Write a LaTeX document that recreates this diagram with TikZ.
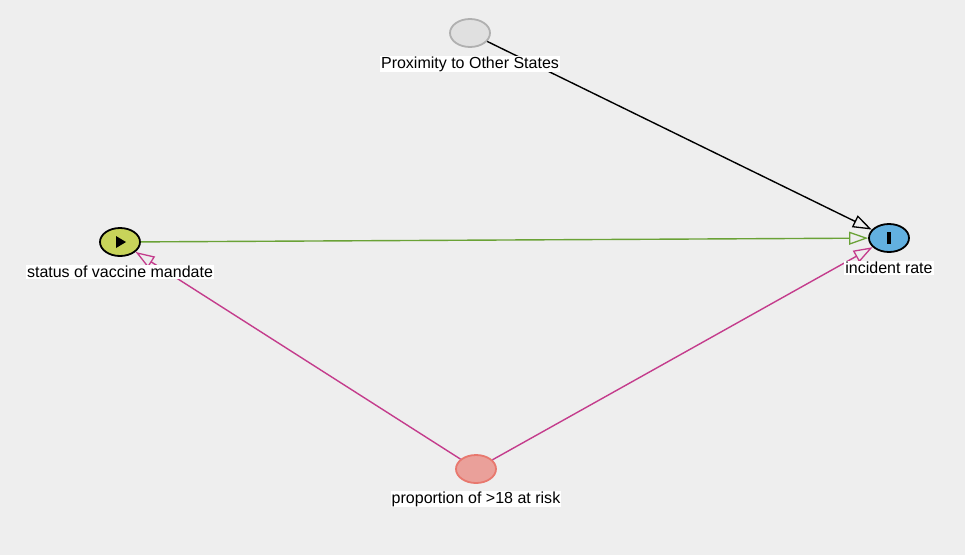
\documentclass[tikz,border=0pt]{standalone}
\usepackage{fontspec}
\setmainfont{Liberation Sans}
\usetikzlibrary{shapes.geometric,arrows.meta}
\definecolor{bg}{HTML}{EEEEEE}
\definecolor{exofill}{HTML}{C8D45A}
\definecolor{outfill}{HTML}{62B0E0}
\definecolor{othfill}{HTML}{E0E0E0}
\definecolor{othline}{HTML}{B0B0B0}
\definecolor{conffill}{HTML}{EAA09A}
\definecolor{confline}{HTML}{E8786E}
\definecolor{causal}{HTML}{6AA236}
\definecolor{biasing}{HTML}{C43C8C}
\tikzset{
  var/.style={ellipse, minimum width=40pt, minimum height=28pt, inner sep=0pt, line width=1.8pt},
  lbl/.style={fill=white, inner sep=1pt, font=\fontsize{16}{18}\selectfont, text=black},
  edge/.style={line width=1.4pt, -{Triangle[open, length=19pt, width=13pt, line width=1.3pt]}},
}
\begin{document}
\begin{tikzpicture}[x=1pt,y=-1pt]
\fill[bg] (0,0) rectangle (965,555);
\useasboundingbox (0,0) rectangle (965,555);

\node[var, fill=othfill, draw=othline] (prox) at (470,33) {};
\node[var, fill=exofill, draw=black] (stat) at (120,242) {};
\node[var, fill=outfill, draw=black] (inc) at (889,238) {};
\node[var, fill=conffill, draw=confline] (prop) at (476,469) {};

\fill[black] ([xshift=-4pt,yshift=-6pt]stat.center) -- ([xshift=-4pt,yshift=6pt]stat.center) -- ([xshift=6pt]stat.center) -- cycle;
\fill[black] ([xshift=-2pt,yshift=-6pt]inc.center) rectangle ([xshift=2pt,yshift=6pt]inc.center);

\draw[edge, black] (prox) -- (inc);
\draw[edge, causal] (stat) -- (inc);
\draw[edge, biasing] (prop) -- (stat);
\draw[edge, biasing] (prop) -- (inc);

\node[lbl] (proxl) at (470,64) {Proximity to Other States};
\node[lbl] (statl) at (120,272) {status of vaccine mandate};
\node[lbl] (incl) at (889,268) {incident rate};
\node[lbl] (propl) at (476,499) {proportion of >18 at risk};
\end{tikzpicture}
\end{document}
